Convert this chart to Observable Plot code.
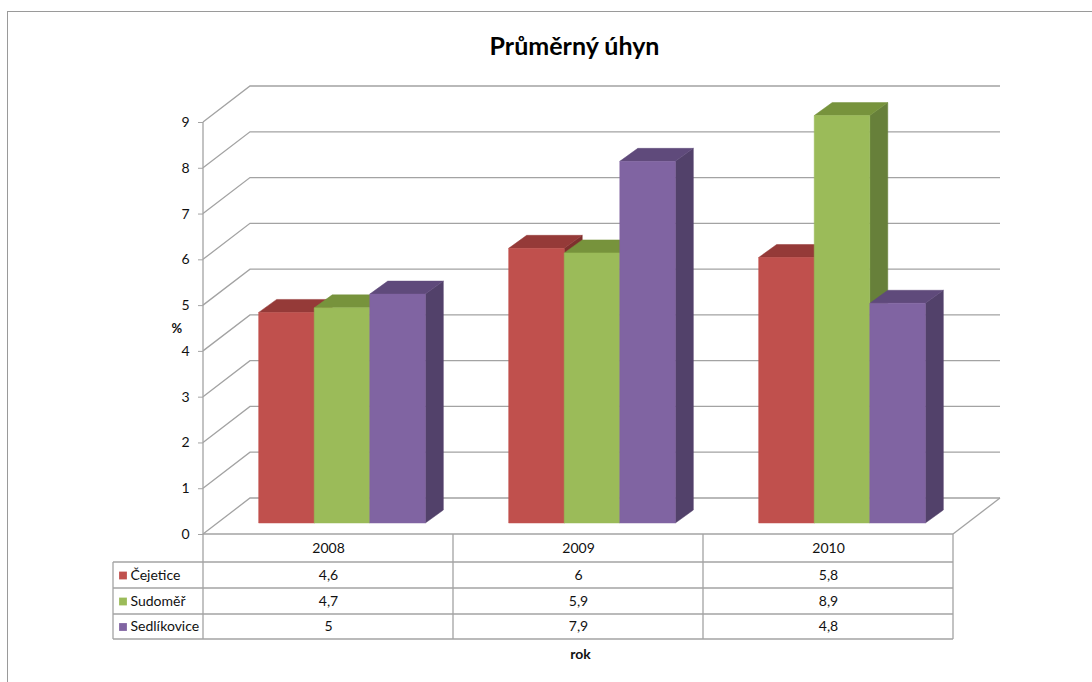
<!DOCTYPE html>
<html>
<head>
<meta charset="utf-8">
<script src="https://cdn.jsdelivr.net/npm/d3@7"></script>
<script src="https://cdn.jsdelivr.net/npm/@observablehq/plot@0.6"></script>
<style>
  body { margin: 0; background: #fff; }
  #chart { position: relative; width: 1092px; height: 682px; overflow: hidden; font-family: Lato, "Open Sans", sans-serif; }
  #border { position: absolute; left: 7px; top: 11px; width: 1120px; height: 720px; border: 1px solid #9a9a9a; }
  #chart svg { position: absolute; left: 0; top: 0; }
</style>
</head>
<body>
<div id="chart"><div id="border"></div></div>
<script>
// Průměrný úhyn (%) by year and locality
const years = ["2008", "2009", "2010"];
const series = ["Čejetice", "Sudoměř", "Sedlíkovice"];
const cejetice = [4.6, 6, 5.8];
const sudomer = [4.7, 5.9, 8.9];
const sedlikovice = [5, 7.9, 4.8];
const yTicks = [0, 1, 2, 3, 4, 5, 6, 7, 8, 9];

const seriesValues = [cejetice, sudomer, sedlikovice];
const frontColors = ["#C0504D", "#9BBB59", "#8064A2"];
const topColors = ["#953A38", "#77933C", "#5F4A7B"];
const sideColors = ["#7E302E", "#67803A", "#52416A"];

// Long table of bars
const bars = [];
years.forEach((year, i) => {
  series.forEach((s, j) => bars.push({year, series: s, k: j, value: seriesValues[j][i]}));
});
const tableRows = series.map((s, j) => years.map((year, i) => ({year, series: s, k: j, value: seriesValues[j][i]})));

const fmt = v => String(v).replace(".", ",");

// Oblique projection offsets (pixels): back wall, bar front plane, bar depth
const WALL = [47, -36];
const FRONT = [14, -11];
const DEPTH = [18, -13];
const gridColor = "#a3a3a3";
const textSize = 14;

function bandInfo(x) {
  const bw = x(years[1]) - x(years[0]);
  const sub = d3.scaleBand(series, [0, bw]).paddingInner(0).paddingOuter(0.75);
  return {bw, sub};
}

// Left wall, back wall and floor
function walls(index, {x, y}) {
  const {bw} = bandInfo(x);
  const x0 = x(years[0]);
  const x3 = x(years[years.length - 1]) + bw;
  const g = d3.create("svg:g").attr("fill", "none").attr("stroke", gridColor).attr("stroke-width", 1.3);
  for (const t of yTicks) {
    const yy = y(t);
    g.append("path").attr("d", `M${x0},${yy}L${x0 + WALL[0]},${yy + WALL[1]}L${x3 + WALL[0]},${yy + WALL[1]}`);
  }
  g.append("path").attr("d", `M${x3},${y(0)}L${x3 + WALL[0]},${y(0) + WALL[1]}`);
  g.append("path").attr("d", `M${x0},${y(0)}L${x0},${y(yTicks[yTicks.length - 1])}`);
  return g.node();
}

// One face of every column
function faces(face) {
  return (index, {x, y}) => {
    const {sub} = bandInfo(x);
    const g = d3.create("svg:g");
    const [dx, dy] = DEPTH;
    for (const b of bars) {
      const x0 = x(b.year) + sub(b.series) + FRONT[0];
      const x1 = x0 + sub.bandwidth();
      const yb = y(0) + FRONT[1];
      const yt = y(b.value) + FRONT[1];
      let pts, fill;
      if (face === "side") {
        pts = [[x1, yb], [x1, yt], [x1 + dx, yt + dy], [x1 + dx, yb + dy]];
        fill = sideColors[b.k];
      } else if (face === "top") {
        pts = [[x0, yt], [x1, yt], [x1 + dx, yt + dy], [x0 + dx, yt + dy]];
        fill = topColors[b.k];
      } else {
        pts = [[x0, yb], [x1, yb], [x1, yt], [x0, yt]];
        fill = frontColors[b.k];
      }
      g.append("path")
        .attr("d", "M" + pts.map(p => p.join(",")).join("L") + "Z")
        .attr("fill", fill)
        .attr("stroke", fill)
        .attr("stroke-width", 0.5);
    }
    return g.node();
  };
}

// Data table grid under the floor
const ROW_LINES = [28, 54, 80, 105];
const KEY_COL = 90;
function tableGrid(index, {x, y}) {
  const {bw} = bandInfo(x);
  const x0 = x(years[0]);
  const x3 = x(years[years.length - 1]) + bw;
  const y0 = y(0);
  const g = d3.create("svg:g").attr("fill", "none").attr("stroke", gridColor).attr("stroke-width", 1.3);
  g.append("path").attr("d", `M${x0},${y0}L${x3},${y0}`);
  for (const r of ROW_LINES) g.append("path").attr("d", `M${x0 - KEY_COL},${y0 + r}L${x3},${y0 + r}`);
  const last = ROW_LINES[ROW_LINES.length - 1];
  years.forEach(yr => g.append("path").attr("d", `M${x(yr)},${y0}L${x(yr)},${y0 + last}`));
  g.append("path").attr("d", `M${x3},${y0}L${x3},${y0 + last}`);
  g.append("path").attr("d", `M${x0 - KEY_COL},${y0 + ROW_LINES[0]}L${x0 - KEY_COL},${y0 + last}`);
  return g.node();
}

const rowMid = [41, 67, 92.5];
const textMarks = [];
tableRows.forEach((row, j) => {
  textMarks.push(Plot.text(row, {x: "year", y: () => 0, text: d => fmt(d.value), dy: rowMid[j], lineAnchor: "middle", fill: "#111", fontSize: textSize}));
  textMarks.push(Plot.text([series[j]], {frameAnchor: "left", y: () => 0, text: d => d, dx: -73, dy: rowMid[j], textAnchor: "start", lineAnchor: "middle", fill: "#111", fontSize: textSize}));
  textMarks.push(Plot.dot([series[j]], {frameAnchor: "left", y: () => 0, dx: -80.5, dy: rowMid[j], symbol: "square", r: 4.4, fill: frontColors[j], stroke: null}));
});

const chart = Plot.plot({
  width: 1092,
  height: 682,
  marginLeft: 203,
  marginRight: 139,
  marginTop: 122,
  marginBottom: 148,
  style: {fontFamily: "Lato, 'Open Sans', sans-serif", fontSize: "14px", color: "#111", background: "transparent", overflow: "visible"},
  x: {type: "band", domain: years, padding: 0, axis: null},
  y: {domain: [0, 9], axis: null},
  marks: [
    walls,
    faces("side"),
    faces("top"),
    faces("front"),
    Plot.axisY(yTicks, {tickSize: 5, tickPadding: 9, stroke: gridColor, fill: "#111", fontSize: textSize, label: null}),
    tableGrid,
    Plot.text(years, {x: d => d, y: () => 0, text: d => d, dy: 14, lineAnchor: "middle", fill: "#111", fontSize: textSize}),
    ...textMarks,
    Plot.text(["Průměrný úhyn"], {frameAnchor: "top", text: d => d, dx: -4, dy: -68, lineAnchor: "bottom", fontSize: 25, fontWeight: "bold", fill: "#000"}),
    Plot.text(["%"], {frameAnchor: "left", text: d => d, dx: -32, dy: 0, lineAnchor: "middle", fontSize: 13, fontWeight: "bold", fill: "#111"}),
    Plot.text(["rok"], {frameAnchor: "bottom", text: d => d, dx: 2, dy: 124, lineAnchor: "bottom", fontSize: 14, fontWeight: "bold", fill: "#111"})
  ]
});
document.getElementById("chart").appendChild(chart);
</script>
</body>
</html>
